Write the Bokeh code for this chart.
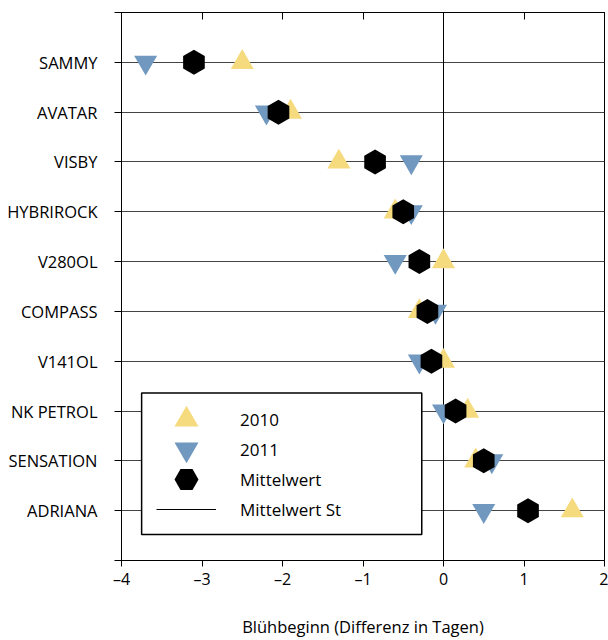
import math
from bokeh.plotting import figure
from bokeh.models import LinearAxis, FixedTicker, Legend, LegendItem, Range1d, BoxAnnotation
from bokeh.embed import file_html
from bokeh.resources import INLINE

# ---- data ----
varieties = ["SAMMY", "AVATAR", "VISBY", "HYBRIROCK", "V280OL",
             "COMPASS", "V141OL", "NK PETROL", "SENSATION", "ADRIANA"]
val_2010 = [-2.5, -1.9, -1.3, -0.6, 0.0, -0.3, 0.0, 0.3, 0.4, 1.6]
val_2011 = [-3.7, -2.2, -0.4, -0.4, -0.6, -0.1, -0.3, 0.0, 0.6, 0.5]
mittelwert = [-3.1, -2.05, -0.85, -0.5, -0.3, -0.2, -0.15, 0.15, 0.5, 1.05]
mittelwert_st = 0.0
x_ticks = [-4, -3, -2, -1, 0, 1, 2]
x_tick_labels = ["–4", "–3", "–2", "–1", "0", "1", "2"]
x_title = "Blühbeginn (Differenz in Tagen)"
legend_labels = ["2010", "2011", "Mittelwert", "Mittelwert St"]

n = len(varieties)
ypos = [n - i for i in range(n)]
y_lo, y_hi = 0, n + 1

FONT = "Open Sans"
YELLOW = "#F6DA7E"
BLUE = "#7199BF"

p = figure(width=608, height=640, x_range=Range1d(x_ticks[0], x_ticks[-1]),
           y_range=Range1d(y_lo, y_hi), output_backend="svg", toolbar_location=None,
           min_border_left=121, min_border_right=4, min_border_top=12, min_border_bottom=78)
p.outline_line_color = "black"
p.outline_line_width = 1
p.background_fill_color = "white"
p.border_fill_color = "white"

# axes
xa = p.xaxis[0]
xa.ticker = FixedTicker(ticks=x_ticks)
xa.major_label_overrides = {t: l for t, l in zip(x_ticks, x_tick_labels)}
xa.major_tick_in = 0
xa.major_tick_out = 6
xa.minor_tick_line_color = None
xa.axis_line_color = "black"
xa.major_tick_line_color = "black"
xa.major_label_text_font = FONT
xa.major_label_text_font_size = "16px"
xa.major_label_text_color = "black"
xa.major_label_standoff = 1
xa.axis_label = x_title
xa.axis_label_text_font = FONT
xa.axis_label_text_font_size = "16.5px"
xa.axis_label_text_font_style = "normal"
xa.axis_label_text_color = "black"
xa.axis_label_standoff = 22

top = LinearAxis(ticker=FixedTicker(ticks=x_ticks), major_tick_in=7, major_tick_out=0,
                 minor_tick_line_color=None, major_label_text_font_size="0px",
                 axis_line_color="black", major_tick_line_color="black")
top.major_label_overrides = {t: "" for t in x_ticks}
p.add_layout(top, "above")

ya = p.yaxis[0]
ya.ticker = FixedTicker(ticks=list(range(y_lo, y_hi + 1)))
overrides = {t: "" for t in range(y_lo, y_hi + 1)}
for v, y in zip(varieties, ypos):
    overrides[y] = v
ya.major_label_overrides = overrides
ya.major_tick_in = 0
ya.major_tick_out = 7
ya.minor_tick_line_color = None
ya.axis_line_color = "black"
ya.major_tick_line_color = "black"
ya.major_label_text_font = FONT
ya.major_label_text_font_size = "16.5px"
ya.major_label_text_color = "black"
ya.major_label_standoff = 17

p.xgrid.grid_line_color = None
p.ygrid.grid_line_color = "#444444"
p.ygrid.grid_line_width = 1

# glyphs
r_st = p.line(x=[mittelwert_st, mittelwert_st], y=[y_lo, y_hi], line_color="black", line_width=1)
r10 = p.scatter(x=val_2010, y=ypos, marker="triangle", size=23, fill_color=YELLOW, line_color=None)
r11 = p.scatter(x=val_2011, y=ypos, marker="inverted_triangle", size=23, fill_color=BLUE, line_color=None)
rm = p.scatter(x=mittelwert, y=ypos, marker="hex", size=25, angle=math.pi / 2,
               fill_color="black", line_color=None)

# legend frame (decoration)
box = BoxAnnotation(left=-3.75, right=-0.27, bottom=0.52, top=3.36,
                    fill_color="white", fill_alpha=1, line_color="black", line_alpha=1,
                    line_width=1.5, level="annotation")
p.add_layout(box)

# one legend per entry so the legend glyphs can be large while rows stay close
renderers = [r10, r11, rm, r_st]
for k, (lab, r) in enumerate(zip(legend_labels, renderers)):
    lg = Legend(items=[LegendItem(label=lab, renderers=[r])],
                location=(35, 111 - 30 * k))
    lg.border_line_color = None
    lg.background_fill_alpha = 0
    lg.padding = 0
    lg.spacing = 0
    lg.margin = 0
    lg.glyph_width = 60
    lg.glyph_height = 60
    lg.label_height = 60
    lg.label_standoff = 24
    lg.label_text_font = FONT
    lg.label_text_font_size = "17px"
    lg.label_text_color = "black"
    p.add_layout(lg)

open("out.html", "w").write(file_html(p, INLINE))
